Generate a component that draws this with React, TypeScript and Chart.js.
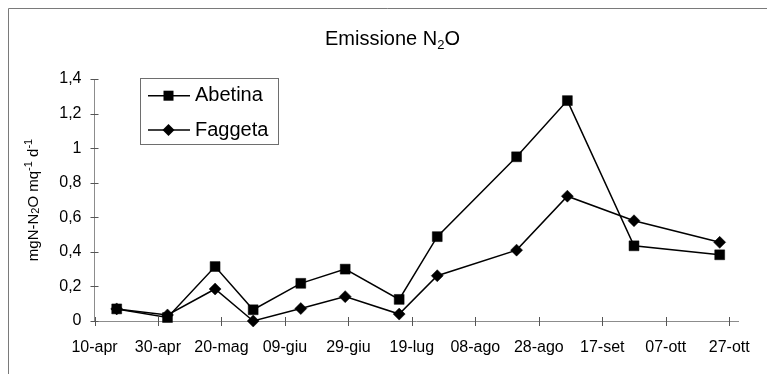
import React, { useEffect, useRef } from 'react';
import { Chart, registerables } from 'chart.js';

Chart.register(...registerables);

// ---- data ----
const START_DATE = '2001-04-10';
const sampleDates = [
  '2001-04-17', '2001-05-03', '2001-05-18', '2001-05-30', '2001-06-14', '2001-06-28',
  '2001-07-15', '2001-07-27', '2001-08-21', '2001-09-06', '2001-09-27', '2001-10-24',
];
const abetina = [0.07, 0.02, 0.315, 0.065, 0.218, 0.3, 0.125, 0.488, 0.95, 1.275, 0.435, 0.383];
const faggeta = [0.07, 0.035, 0.185, 0.0, 0.072, 0.141, 0.04, 0.262, 0.41, 0.722, 0.58, 0.455];
const tickLabels = [
  '10-apr', '30-apr', '20-mag', '09-giu', '29-giu', '19-lug',
  '08-ago', '28-ago', '17-set', '07-ott', '27-ott',
];
const seriesNames = ['Abetina', 'Faggeta'];
const TICK_STEP_DAYS = 20;
const AXIS_MAX_DAYS = 203;
const Y_MAX = 1.4;
const Y_STEP = 0.2;

const FONT = "'Liberation Sans', Arial, sans-serif";

function dayOffset(iso: string): number {
  const [y, m, d] = iso.split('-').map(Number);
  const [y0, m0, d0] = START_DATE.split('-').map(Number);
  return Math.round((Date.UTC(y, m - 1, d) - Date.UTC(y0, m0 - 1, d0)) / 86400000);
}

const decorPlugin = {
  id: 'decor',
  beforeDraw(chart: any) {
    const ctx = chart.ctx;
    ctx.save();
    ctx.strokeStyle = '#7a7a7a';
    ctx.lineWidth = 1;
    ctx.beginPath();
    ctx.moveTo(8.5, chart.height);
    ctx.lineTo(8.5, 8.5);
    ctx.lineTo(chart.width, 8.5);
    ctx.stroke();
    ctx.restore();
  },
  beforeDatasetsDraw(chart: any) {
    const { ctx, chartArea } = chart;
    const x = chart.scales.x;
    const y = chart.scales.y;
    ctx.save();
    ctx.strokeStyle = '#555';
    ctx.lineWidth = 1;
    x.ticks.forEach((t: any) => {
      if (t.value % TICK_STEP_DAYS !== 0) return;
      const px = Math.round(x.getPixelForValue(t.value)) + 0.5;
      ctx.beginPath();
      ctx.moveTo(px, chartArea.bottom - 4);
      ctx.lineTo(px, chartArea.bottom + 5);
      ctx.stroke();
    });
    y.ticks.forEach((t: any) => {
      const py = Math.round(y.getPixelForValue(t.value)) + 0.5;
      ctx.beginPath();
      ctx.moveTo(chartArea.left - 4, py);
      ctx.lineTo(chartArea.left + 4, py);
      ctx.stroke();
    });
    ctx.restore();
  },
  afterDraw(chart: any) {
    const ctx = chart.ctx;
    ctx.save();
    ctx.fillStyle = '#000';

    // Title: Emissione N2O (subscript 2)
    const big = `20px ${FONT}`;
    const small = `13px ${FONT}`;
    ctx.font = big;
    const p1 = 'Emissione N';
    const p3 = 'O';
    const w1 = ctx.measureText(p1).width;
    const w3 = ctx.measureText(p3).width;
    ctx.font = small;
    const w2 = ctx.measureText('2').width;
    const total = w1 + w2 + w3;
    let tx = 392.5 - total / 2;
    const base = 45;
    ctx.textBaseline = 'alphabetic';
    ctx.textAlign = 'left';
    ctx.font = big;
    ctx.fillText(p1, tx, base);
    tx += w1;
    ctx.font = small;
    ctx.fillText('2', tx, base + 4);
    tx += w2;
    ctx.font = big;
    ctx.fillText(p3, tx, base);

    // Y-axis title (rotated): mgN-N2O mq^-1 d^-1
    const yf = `15px ${FONT}`;
    const ys = `11px ${FONT}`;
    const parts: [string, string, number][] = [
      ['mgN-N', yf, 0],
      ['2', ys, 1],
      ['O mq', yf, 0],
      ['-1', ys, -6],
      [' d', yf, 0],
      ['-1', ys, -6],
    ];
    let tw = 0;
    parts.forEach(([s, f]) => { ctx.font = f; tw += ctx.measureText(s).width; });
    const cy = (chart.chartArea.top + chart.chartArea.bottom) / 2;
    ctx.translate(38, cy);
    ctx.rotate(-Math.PI / 2);
    let lx = -tw / 2;
    parts.forEach(([s, f, dy]) => {
      ctx.font = f;
      ctx.fillText(s, lx, dy);
      lx += ctx.measureText(s).width;
    });
    ctx.setTransform(1, 0, 0, 1, 0, 0);
    ctx.restore();

    // Legend
    ctx.save();
    const lb = { l: 140.5, t: 78.5, r: 278.5, b: 144.5 };
    ctx.fillStyle = '#fff';
    ctx.fillRect(lb.l, lb.t, lb.r - lb.l, lb.b - lb.t);
    ctx.strokeStyle = '#6e6e6e';
    ctx.lineWidth = 1;
    ctx.strokeRect(lb.l, lb.t, lb.r - lb.l, lb.b - lb.t);
    const rows = [95.7, 130];
    rows.forEach((ry, i) => {
      ctx.strokeStyle = '#000';
      ctx.lineWidth = 1.5;
      ctx.beginPath();
      ctx.moveTo(148, ry);
      ctx.lineTo(190, ry);
      ctx.stroke();
      ctx.fillStyle = '#000';
      ctx.beginPath();
      if (i === 0) {
        ctx.rect(168.5 - 5, ry - 5, 10, 10);
      } else {
        ctx.moveTo(168.5, ry - 6);
        ctx.lineTo(174.5, ry);
        ctx.lineTo(168.5, ry + 6);
        ctx.lineTo(162.5, ry);
        ctx.closePath();
      }
      ctx.fill();
      ctx.font = `20px ${FONT}`;
      ctx.textAlign = 'left';
      ctx.textBaseline = 'middle';
      ctx.fillText(seriesNames[i], 195, ry);
    });
    ctx.restore();
  },
};

export default function App() {
  const ref = useRef<HTMLCanvasElement | null>(null);

  useEffect(() => {
    if (!ref.current) return;
    const xs = sampleDates.map(dayOffset);
    const chart = new Chart(ref.current, {
      type: 'line',
      data: {
        datasets: [
          {
            label: seriesNames[0],
            data: xs.map((x, i) => ({ x, y: abetina[i] })),
            borderColor: '#000',
            backgroundColor: '#000',
            borderWidth: 1.5,
            pointStyle: 'rect',
            pointRadius: 7,
            pointBorderWidth: 0.5,
            pointBackgroundColor: '#000',
            pointBorderColor: '#000',
            tension: 0,
            clip: false,
          },
          {
            label: seriesNames[1],
            data: xs.map((x, i) => ({ x, y: faggeta[i] })),
            borderColor: '#000',
            backgroundColor: '#000',
            borderWidth: 1.5,
            pointStyle: 'rectRot',
            pointRadius: 6,
            pointBorderWidth: 0.5,
            pointBackgroundColor: '#000',
            pointBorderColor: '#000',
            tension: 0,
            clip: false,
          },
        ],
      },
      options: {
        responsive: false,
        animation: false,
        events: [],
        layout: { padding: { top: 79, right: 22, bottom: 0, left: 0 } },
        plugins: {
          legend: { display: false },
          title: { display: false },
          tooltip: { enabled: false },
        },
        scales: {
          x: {
            type: 'linear',
            min: 0,
            max: AXIS_MAX_DAYS,
            grid: { display: false, drawTicks: false },
            border: { display: true, color: '#8c8c8c', width: 1 },
            ticks: {
              stepSize: TICK_STEP_DAYS,
              includeBounds: false,
              autoSkip: false,
              maxRotation: 0,
              padding: 17,
              color: '#000',
              font: { family: FONT, size: 16 },
              callback: (v: any) => {
                const n = Number(v);
                if (n % TICK_STEP_DAYS !== 0) return '';
                return tickLabels[n / TICK_STEP_DAYS] ?? '';
              },
            },
            afterFit: (s: any) => { s.height = 53; },
          },
          y: {
            type: 'linear',
            min: 0,
            max: Y_MAX,
            grid: { display: false, drawTicks: false },
            border: { display: true, color: '#8c8c8c', width: 1 },
            ticks: {
              stepSize: Y_STEP,
              padding: 13,
              color: '#000',
              font: { family: FONT, size: 16 },
              callback: (v: any) => Number(Number(v).toFixed(1)).toString().replace('.', ','),
            },
            afterFit: (s: any) => { s.width = 94.5; },
          },
        },
      },
      plugins: [decorPlugin],
    });
    return () => chart.destroy();
  }, []);

  return (
    <div style={{ position: 'absolute', left: 0, top: 0, width: 767, height: 374, background: '#fff' }}>
      <canvas ref={ref} width={767} height={374} />
    </div>
  );
}
